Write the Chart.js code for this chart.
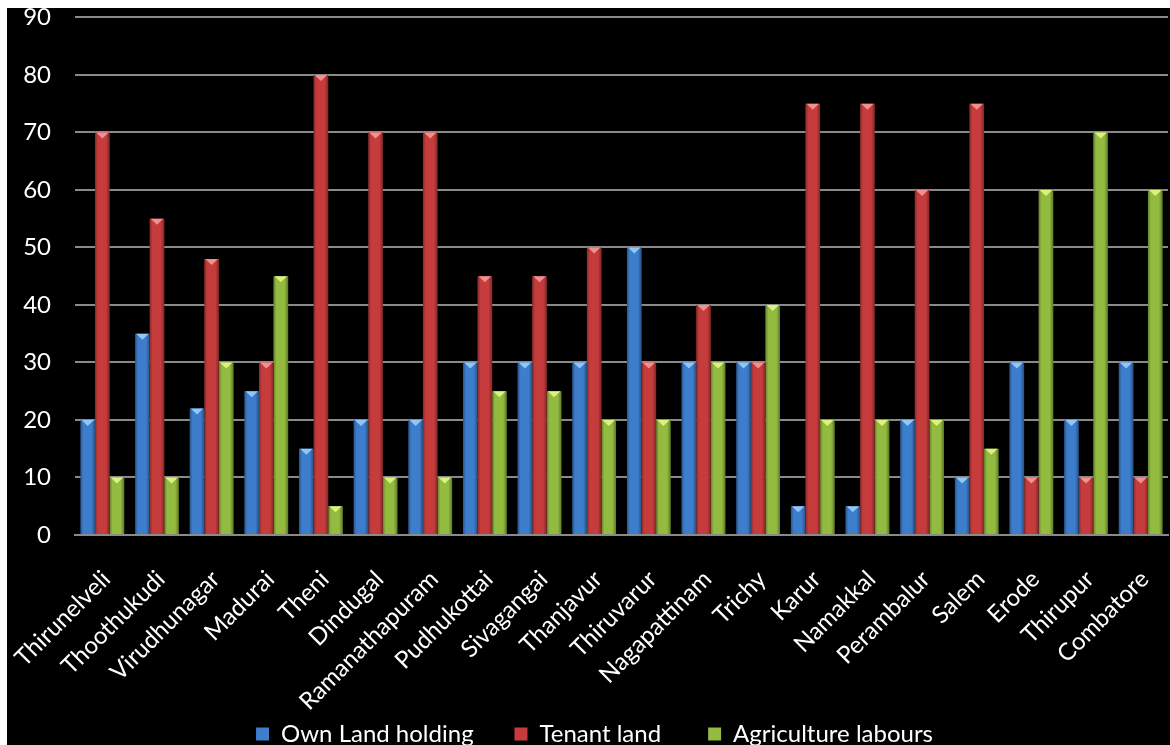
<!DOCTYPE html>
<html>
<head>
<meta charset="utf-8">
<script src="https://cdn.jsdelivr.net/npm/chart.js@4.4.1/dist/chart.umd.min.js"></script>
<style>
    html, body { margin: 0; padding: 0; background: #fff; }
    #wrap { position: absolute; left: 7px; top: 8px; width: 1163px; height: 737px; background: #000; overflow: hidden; }
    #inner { position: absolute; left: 0; top: -9px; width: 1163px; height: 757px; }
</style>
</head>
<body>
<div id="wrap"><div id="inner"><canvas id="chart"></canvas></div></div>
<script>
const districts = [
    "Thirunelveli", "Thoothukudi", "Virudhunagar", "Madurai", "Theni", "Dindugal",
    "Ramanathapuram", "Pudhukottai", "Sivagangai", "Thanjavur", "Thiruvarur",
    "Nagapattinam", "Trichy", "Karur", "Namakkal", "Perambalur", "Salem",
    "Erode", "Thirupur", "Combatore"
];
const ownLand = [20, 35, 22, 25, 15, 20, 20, 30, 30, 30, 50, 30, 30, 5, 5, 20, 10, 30, 20, 30];
const tenantLand = [70, 55, 48, 30, 80, 70, 70, 45, 45, 50, 30, 40, 30, 75, 75, 60, 75, 10, 10, 10];
const agriLabours = [10, 10, 30, 45, 5, 10, 10, 25, 25, 20, 20, 30, 40, 20, 20, 20, 15, 60, 70, 60];
const yTicks = [0, 10, 20, 30, 40, 50, 60, 70, 80, 90];

const FONT = "Lato";

// shade each bar like a cylinder and add the light bevel on top
const barShade = {
    id: 'barShade',
    afterDatasetsDraw(chart) {
        const ctx = chart.ctx;
        chart.data.datasets.forEach((ds, i) => {
            const meta = chart.getDatasetMeta(i);
            meta.data.forEach(bar => {
                const left = bar.x - bar.width / 2;
                const right = bar.x + bar.width / 2;
                const top = bar.y;
                const bottom = bar.base;
                const g = ctx.createLinearGradient(left, 0, right, 0);
                g.addColorStop(0, 'rgba(0,0,0,0.3)');
                g.addColorStop(0.2, 'rgba(0,0,0,0)');
                g.addColorStop(0.75, 'rgba(0,0,0,0)');
                g.addColorStop(1, 'rgba(0,0,0,0.35)');
                ctx.save();
                ctx.fillStyle = g;
                ctx.fillRect(left, top, bar.width, bottom - top);
                ctx.fillStyle = ds.topColor;
                ctx.beginPath();
                ctx.moveTo(left + 1, top);
                ctx.lineTo(right - 1, top);
                ctx.lineTo(bar.x, top + Math.min(6, bottom - top));
                ctx.closePath();
                ctx.fill();
                ctx.restore();
            });
        });
    }
};

new Chart(document.getElementById('chart'), {
    type: 'bar',
    data: {
        labels: districts,
        datasets: [
            { label: 'Own Land holding', data: ownLand, backgroundColor: '#3c7dcc', topColor: '#92c6f6' },
            { label: 'Tenant land', data: tenantLand, backgroundColor: '#c63c3c', topColor: '#f29090' },
            { label: 'Agriculture labours', data: agriLabours, backgroundColor: '#92bb40', topColor: '#dcf27e' }
        ]
    },
    options: {
        responsive: true,
        maintainAspectRatio: false,
        animation: false,
        layout: { padding: { top: 0, right: 2, bottom: 0, left: 14 } },
        datasets: {
            bar: { categoryPercentage: 0.8, barPercentage: 1.0 }
        },
        plugins: {
            tooltip: { enabled: false },
            legend: {
                position: 'bottom',
                labels: {
                    color: '#fff',
                    font: { family: FONT, size: 24 },
                    boxWidth: 13,
                    boxHeight: 13,
                    padding: 4,
                    generateLabels: chart => {
                        const items = Chart.defaults.plugins.legend.labels.generateLabels(chart);
                        // wider gaps between items without growing the legend height
                        const gaps = ['      ', '       ', ''];
                        items.forEach((it, i) => { it.text += gaps[i]; });
                        return items;
                    }
                }
            }
        },
        scales: {
            x: {
                grid: { display: false, drawTicks: false },
                border: { color: '#8a8a8a', width: 2 },
                ticks: {
                    color: '#fff',
                    font: { family: FONT, size: 24 },
                    maxRotation: 45,
                    minRotation: 45,
                    padding: 30,
                    labelOffset: 4,
                    autoSkip: false
                },
                afterFit: s => {
                    s.height = 183;
                    s.paddingLeft = 0;
                    s.paddingRight = 0;
                }
            },
            y: {
                min: 0,
                max: 90,
                afterBuildTicks: s => { s.ticks = yTicks.map(v => ({ value: v })); },
                grid: { color: '#8a8a8a', lineWidth: 2, drawTicks: true, tickLength: 20, tickColor: 'rgba(0,0,0,0)' },
                border: { display: false },
                ticks: {
                    color: '#fff',
                    font: { family: FONT, size: 24 },
                    padding: 4
                },
                afterFit: s => { s.width = 54; }
            }
        }
    },
    plugins: [barShade]
});
</script>
</body>
</html>
